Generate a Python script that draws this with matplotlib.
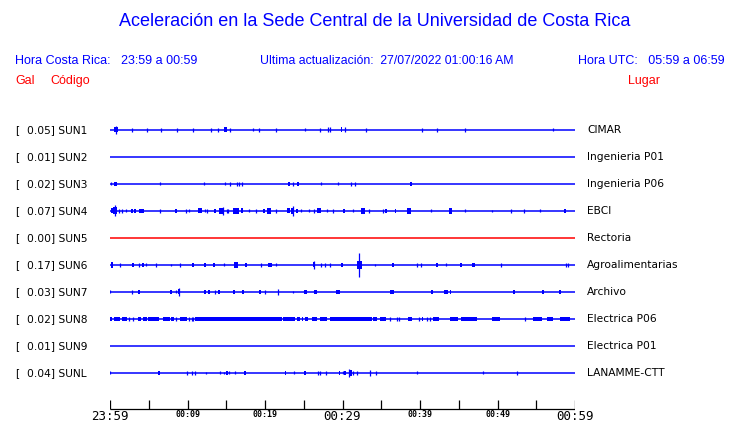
import matplotlib
matplotlib.use("Agg")
import matplotlib.pyplot as plt

# ---------------- data ----------------
stations = ["SUN1", "SUN2", "SUN3", "SUN4", "SUN5", "SUN6", "SUN7", "SUN8", "SUN9", "SUNL"]
peak_gal = ["0.05", "0.01", "0.02", "0.07", "0.00", "0.17", "0.03", "0.02", "0.01", "0.04"]
places = ["CIMAR", "Ingenieria P01", "Ingenieria P06", "EBCI", "Rectoria",
          "Agroalimentarias", "Archivo", "Electrica P06", "Electrica P01", "LANAMME-CTT"]
trace_colors = ["blue", "blue", "blue", "blue", "red", "blue", "blue", "blue", "blue", "blue"]

# events: (minute after 23:59, half amplitude, duration in minutes)
sun1 = [(0.77, 4, 0), (0.77, 2.5, 0.5), (2.88, 2, 0), (4.81, 2, 0), (6.62, 2, 0), (8.68, 2, 0),
        (10.75, 2, 0), (13.07, 2, 0), (13.97, 2, 0), (14.93, 2.5, 0.35), (15.52, 2, 0),
        (18.49, 1.5, 0), (19.26, 2, 0), (21.46, 2, 0), (25.20, 1.5, 0), (27.14, 2, 0),
        (28.17, 2.5, 0), (28.43, 2.5, 0), (29.87, 2.5, 0.25), (30.36, 2.5, 0), (33.07, 2, 0),
        (40.22, 2, 0), (42.23, 2, 0), (45.85, 2, 0), (57.20, 1.5, 0)]
sun2 = []
sun3 = [(0.17, 1.5, 0), (0.68, 2, 0.4), (6.49, 1.5, 0), (12.17, 1.5, 0), (14.88, 1.5, 0),
        (15.52, 2, 0), (16.43, 2, 0), (16.69, 2, 0), (17.07, 2, 0), (23.10, 2, 0.3),
        (23.65, 2, 0), (24.26, 2, 0.3), (27.26, 1.5, 0), (29.46, 1.5, 0), (31.06, 2, 0),
        (31.65, 2, 0), (38.84, 2, 0.3)]
sun4 = [(0.39, 2.5, 0.4), (0.65, 5.5, 0), (0.65, 3.5, 0.5), (1.16, 2, 0), (1.59, 2, 0),
        (2.03, 1.5, 0), (2.80, 2, 0.3), (3.19, 2, 0.3), (4.04, 2, 0.6), (6.49, 2, 0),
        (8.55, 2, 0.3), (9.77, 2, 0), (10.19, 1.5, 0), (11.61, 2.5, 0.45), (12.22, 1.5, 0),
        (12.55, 2, 0), (13.55, 2, 0.3), (14.36, 3, 0.6), (14.58, 4, 0), (15.06, 2, 0),
        (15.26, 2, 0), (16.26, 3, 0.7), (16.99, 2.5, 0.3), (17.90, 1.5, 0), (18.80, 2, 0),
        (19.87, 2, 0.3), (20.52, 3, 0.6), (21.38, 2, 0), (23.01, 2.5, 0.4), (23.57, 5, 0),
        (23.57, 3, 0.4), (24.09, 2, 0.3), (24.61, 1.5, 0), (25.72, 1.5, 0), (26.36, 2, 0),
        (26.97, 2.5, 0.6), (27.96, 1.5, 0), (28.77, 2, 0), (30.19, 2, 0.3), (31.39, 1.5, 0),
        (32.48, 2, 0), (32.68, 3, 0.5), (33.46, 2, 0), (35.26, 2, 0), (35.61, 2, 0.2),
        (36.81, 2, 0.2), (38.58, 3, 0.4), (41.38, 1.5, 0), (43.96, 3, 0.4), (45.85, 1.5, 0),
        (49.33, 1, 0), (51.70, 2, 0), (53.46, 2, 0), (55.48, 1.5, 0), (58.67, 2, 0.3)]
sun5 = []
sun6 = [(0.26, 3, 0.3), (1.29, 2, 0), (2.97, 2, 0.3), (3.70, 2, 0), (4.22, 2, 0.3),
        (4.65, 1.5, 0), (5.97, 2, 0), (7.83, 1, 0), (9.03, 2, 0), (10.67, 2, 0.3),
        (12.22, 2, 0.3), (13.42, 2, 0.3), (14.75, 1.5, 0), (16.26, 3, 0.4), (17.51, 2, 0.3),
        (19.48, 2, 0), (20.52, 2, 0.2), (20.81, 2, 0.3), (21.38, 1.5, 0), (26.28, 4, 0),
        (26.28, 2.5, 0.3), (27.19, 2, 0), (27.78, 2, 0), (28.35, 2, 0), (29.94, 2, 0.3),
        (32.17, 12, 0), (32.17, 4, 0.6), (34.19, 1, 0), (36.55, 2, 0.3), (39.65, 2, 0),
        (40.17, 2, 0), (42.15, 2, 0.3), (43.35, 1.5, 0), (45.25, 2, 0.3), (46.88, 2, 0.4),
        (50.41, 2, 0), (58.80, 2, 0), (59.06, 2, 0)]
sun7 = [(0.00, 1.5, 0), (2.88, 2, 0), (3.74, 2, 0.3), (7.83, 2, 0.3), (8.55, 1.5, 0),
        (8.90, 4, 0), (8.90, 2.5, 0.3), (12.28, 2, 0.3), (12.81, 2, 0.3), (13.55, 2, 0),
        (14.10, 2, 0.3), (16.00, 2, 0.3), (17.16, 2, 0.3), (19.35, 2, 0.3), (19.96, 2, 0),
        (21.68, 3, 0), (23.65, 1, 0), (25.20, 2, 0.4), (26.54, 2, 0.4), (29.46, 2, 0.5),
        (36.35, 2, 0.5), (41.51, 2, 0.3), (43.35, 2, 0.6), (43.91, 2, 0.2), (52.17, 2, 0.3),
        (55.87, 2, 0.2), (58.06, 2, 0.2)]
# SUN8: bursts (start minute, end minute) and isolated spikes
sun8_bursts = [(0.00, 0.30), (0.52, 1.29), (1.51, 2.23), (3.57, 3.96), (4.22, 4.74),
               (4.94, 6.36), (6.88, 7.74), (7.87, 8.26), (9.03, 9.97), (10.97, 22.15),
               (22.36, 23.87), (24.09, 24.52), (24.73, 24.94), (25.16, 25.59), (26.02, 26.67),
               (27.10, 27.96), (28.39, 33.77), (33.97, 34.40), (34.84, 35.61), (38.49, 38.92),
               (40.22, 40.41), (41.64, 42.49), (43.87, 44.94), (45.25, 47.31), (49.33, 50.32),
               (54.62, 55.78), (56.35, 57.20), (58.06, 59.35)]
sun8 = [(2.49, 2, 0), (3.01, 2, 0), (8.52, 2, 0), (10.23, 2, 0), (10.54, 2, 0), (10.75, 2, 0),
        (36.13, 2, 0), (36.99, 2, 0), (37.33, 2, 0), (39.87, 2, 0), (40.94, 2, 0),
        (41.29, 2, 0), (53.55, 2, 0)]
sun8_burst_amp = 1.8
sun9 = []
sunl = [(0.00, 1.5, 0), (6.32, 2, 0.3), (9.97, 2, 0), (10.62, 2, 0), (11.01, 2, 0),
        (12.43, 1, 0), (14.23, 1.5, 0), (14.67, 1, 0), (15.06, 2, 0.3), (15.39, 1.5, 0),
        (16.17, 1.5, 0), (17.42, 2, 0.3), (22.67, 2, 0.2), (23.78, 1.5, 0), (25.20, 2, 0.3),
        (26.88, 2, 0), (27.14, 2, 0), (27.91, 2, 0), (29.64, 2, 0.2), (30.01, 1.5, 0),
        (30.32, 2, 0.2), (30.88, 4, 0), (31.01, 3, 0.4), (31.39, 2, 0), (31.83, 2, 0),
        (33.51, 3, 0), (34.32, 2, 0), (39.57, 1.5, 0), (48.17, 1.5, 0), (52.52, 2, 0)]
events = [sun1, sun2, sun3, sun4, sun5, sun6, sun7, sun8, sun9, sunl]

tick_minutes = list(range(0, 61, 5))
label_minutes = [0, 10, 20, 30, 40, 50, 60]
label_texts = ["23:59", "00:09", "00:19", "00:29", "00:39", "00:49", "00:59"]
label_big = [True, False, False, True, False, False, True]

title = "Aceleración en la Sede Central de la Universidad de Costa Rica"
hora_cr = "Hora Costa Rica:   23:59 a 00:59"
actualizacion = "Ultima actualización:  27/07/2022 01:00:16 AM"
hora_utc = "Hora UTC:   05:59 a 06:59"

# ---------------- figure ----------------
W, H = 740, 423
fig = plt.figure(figsize=(W / 100, H / 100), dpi=100)
fig.patch.set_facecolor("white")

def fx(px):
    return px / W

def fy(py):
    return 1 - py / H

ax = fig.add_axes([fx(110), 0, 465 / W, 1])
ax.set_xlim(0, 60)
ax.set_ylim(H, 0)
ax.axis("off")

row0, row_step = 130, 27
BLUE = (0, 0, 1)
RED = (1, 0, 0)
LABEL_FS = 7.7

for i, st in enumerate(stations):
    base = row0 + row_step * i
    col = RED if trace_colors[i] == "red" else BLUE
    ax.hlines(base, 0, 60, color=col, lw=1.1)
    for (t, a, d) in events[i]:
        if d == 0:
            ax.vlines(t, base - a, base + a, color=col, lw=0.9)
        else:
            ax.bar(t, 2 * a, width=d, bottom=base - a, color=col, lw=0)
    if st == "SUN8":
        for (s, e) in sun8_bursts:
            ax.bar(s, 2 * sun8_burst_amp, width=e - s, bottom=base - sun8_burst_amp,
                   align="edge", color=col, lw=0)
    # labels
    fig.text(fx(15), fy(base), "[", fontsize=LABEL_FS, family="DejaVu Sans", va="center", ha="left")
    fig.text(fx(27), fy(base), f"{peak_gal[i]}] {st}", fontsize=LABEL_FS, family="DejaVu Sans",
             va="center", ha="left")
    fig.text(fx(587), fy(base), places[i], fontsize=LABEL_FS, family="DejaVu Sans",
             va="center", ha="left")

# time axis
axis_y = 409
ax.hlines(axis_y, 0, 60, color="black", lw=0.9)
ax.vlines(tick_minutes, axis_y - 9, axis_y, color="black", lw=0.9)
for m, txt, big in zip(label_minutes, label_texts, label_big):
    if big:
        ax.text(m, 416, txt, fontsize=9, family="DejaVu Sans Mono", ha="center", va="center")
    else:
        ax.text(m, 414.5, txt, fontsize=6, family="DejaVu Sans Mono", fontweight="bold",
                ha="center", va="center")

# headers
fig.text(fx(375), fy(22), title, fontsize=13, family="Liberation Sans", color=BLUE,
         ha="center", va="center")
fig.text(fx(15), fy(61), hora_cr, fontsize=9, family="Liberation Sans", color=BLUE,
         ha="left", va="center")
fig.text(fx(260), fy(61), actualizacion, fontsize=8.85, family="Liberation Sans", color=BLUE,
         ha="left", va="center")
fig.text(fx(725), fy(61), hora_utc, fontsize=9, family="Liberation Sans", color=BLUE,
         ha="right", va="center")
fig.text(fx(15), fy(81), "Gal", fontsize=9, family="Liberation Sans", color=RED,
         ha="left", va="center")
fig.text(fx(50), fy(81), "Código", fontsize=9, family="Liberation Sans", color=RED,
         ha="left", va="center")
fig.text(fx(628), fy(81), "Lugar", fontsize=9, family="Liberation Sans", color=RED,
         ha="left", va="center")

fig.savefig("out.png", dpi=100)
